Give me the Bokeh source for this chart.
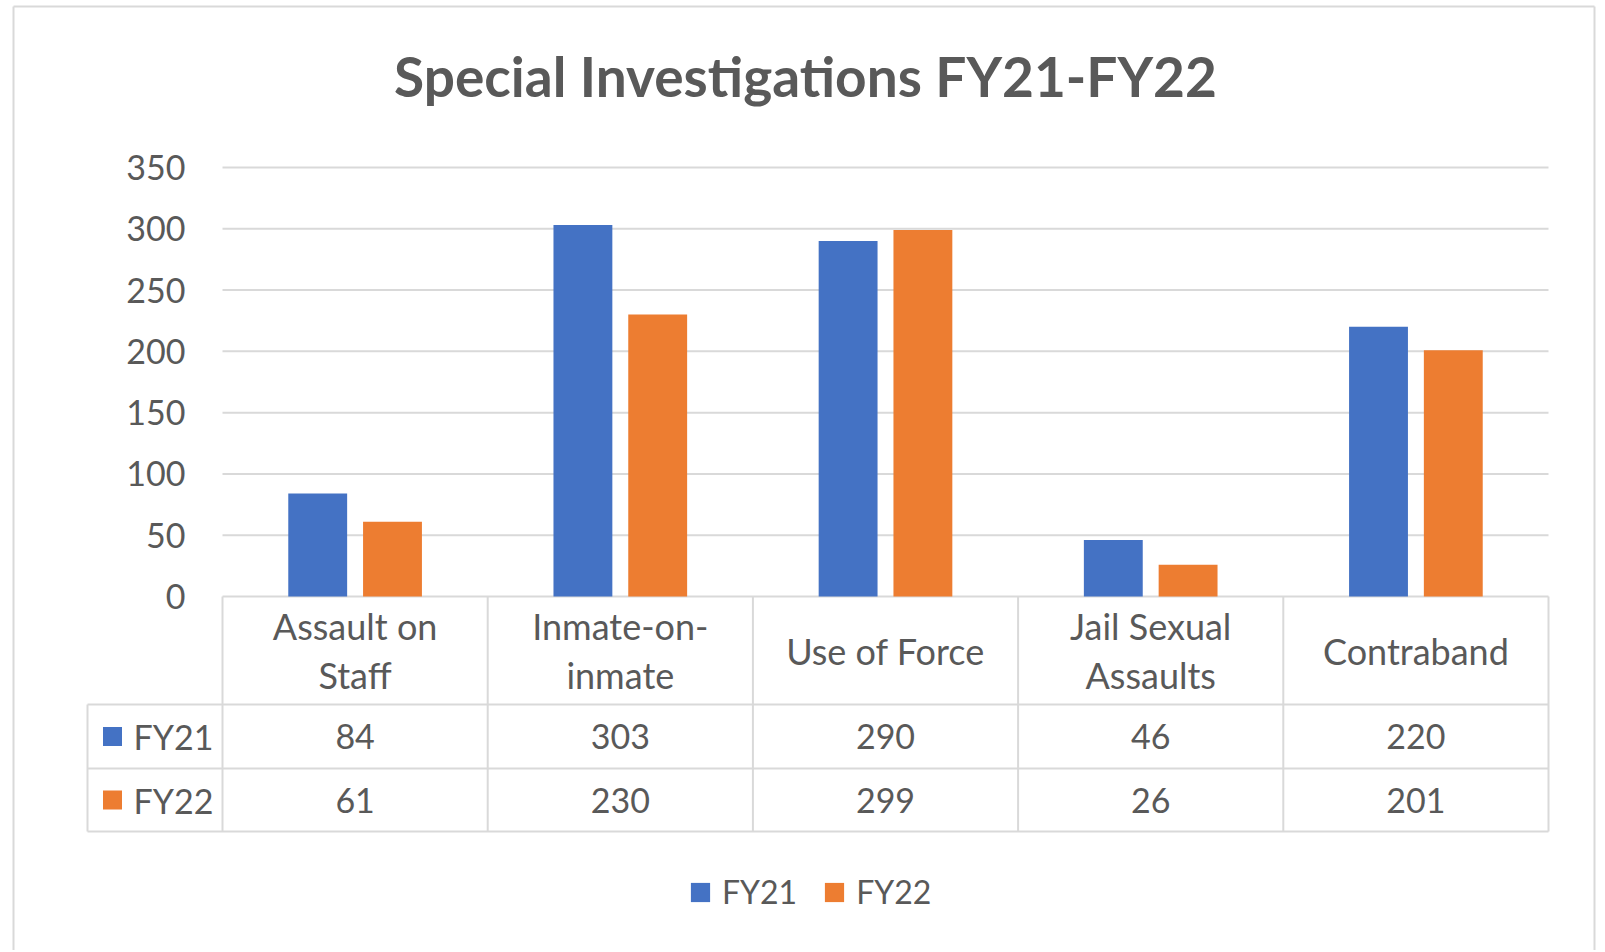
from bokeh.plotting import figure
from bokeh.models import Range1d, ColumnDataSource, Legend, LegendItem
from bokeh.core.properties import value
from bokeh.embed import file_html
from bokeh.resources import INLINE

# ---------------- data ----------------
title_text = "Special Investigations FY21-FY22"
categories = ["Assault on Staff", "Inmate-on-inmate", "Use of Force",
              "Jail Sexual Assaults", "Contraband"]
category_labels = ["Assault on\nStaff", "Inmate-on-\ninmate", "Use of Force",
                   "Jail Sexual\nAssaults", "Contraband"]
series = ["FY21", "FY22"]
fy21 = [84, 303, 290, 46, 220]
fy22 = [61, 230, 299, 26, 201]
y_ticks = [0, 50, 100, 150, 200, 250, 300, 350]
y_tick_labels = ["0", "50", "100", "150", "200", "250", "300", "350"]
colors = ["#4472C4", "#ED7D31"]

# ---------------- layout (page pixels) ----------------
FONT_NAME = "Lato"
FONT = value(FONT_NAME)
TXT = "#595959"
LINE = "#d9d9d9"
ORG = 0
W, H = 1600, 950
FX0, FX1 = ORG, ORG + W
FY0, FY1 = ORG, ORG + H
plot_left, plot_right = 222, 1548
zero_y, top_y = 596, 167
n = len(categories)
ux = (plot_right - plot_left) / n
cx0 = plot_left + ux / 2
uy = (zero_y - top_y) / y_ticks[-1]


def X(px):
    return (px - cx0) / ux


def Y(py):
    return (zero_y - py) / uy


p = figure(width=W, height=H, output_backend="svg", toolbar_location=None,
           x_range=Range1d(X(FX0), X(FX1)), y_range=Range1d(Y(FY1), Y(FY0)),
           min_border_left=0, min_border_right=0, min_border_top=0,
           min_border_bottom=0)
p.axis.visible = False
p.grid.visible = False
p.outline_line_color = None
p.background_fill_color = "white"
p.border_fill_color = "white"

# chart border (left, top, right)
bl, bt, br = 13, 6, 1594
p.segment(x0=[X(bl), X(bl), X(br)], y0=[Y(FY1), Y(bt), Y(bt)],
          x1=[X(bl), X(br), X(br)], y1=[Y(bt), Y(bt), Y(FY1)],
          line_color="#d9d9d9", line_width=2)

# title
p.text(x=[X(805)], y=[Y(75)], text=[title_text], text_font=FONT,
       text_font_size="55px", text_font_style="bold", text_color=TXT,
       text_align="center", text_baseline="middle")

# gridlines + tick labels
xs_left = -0.5
xs_right = n - 0.5
p.segment(x0=[xs_left] * len(y_ticks), x1=[xs_right] * len(y_ticks),
          y0=y_ticks, y1=y_ticks, line_color=LINE, line_width=2)
p.text(x=[xs_left] * len(y_ticks), y=y_ticks, text=y_tick_labels,
       x_offset=-37, text_font=FONT, text_font_size="34px", text_color=TXT,
       text_align="right", text_baseline="middle")

# bars
idx = list(range(n))
off, bw = 0.141, 0.222
src = ColumnDataSource(dict(x1=[i - off for i in idx], x2=[i + off for i in idx],
                            fy21=fy21, fy22=fy22))
r1 = p.vbar(x="x1", top="fy21", bottom=0, width=bw, source=src,
            fill_color=colors[0], line_color=None)
r2 = p.vbar(x="x2", top="fy22", bottom=0, width=bw, source=src,
            fill_color=colors[1], line_color=None)

# data table
y_head = Y(704)
y_r1 = Y(768)
y_r2 = Y(831)
x_tab = X(87)
p.segment(x0=[x_tab, x_tab, x_tab], x1=[xs_right] * 3,
          y0=[y_head, y_r1, y_r2], y1=[y_head, y_r1, y_r2],
          line_color=LINE, line_width=2)
vx = [i - 0.5 for i in range(n + 1)]
p.segment(x0=vx, x1=vx, y0=[0] * len(vx), y1=[y_r2] * len(vx),
          line_color=LINE, line_width=2)
p.segment(x0=[x_tab], x1=[x_tab], y0=[y_head], y1=[y_r2],
          line_color=LINE, line_width=2)

# header labels
p.text(x=idx, y=[(0 + y_head) / 2] * n, text=category_labels, text_font=FONT,
       text_font_size="36px", text_color=TXT, text_align="center",
       text_baseline="middle", text_line_height=1.1)
# row values
row_y = [(y_head + y_r1) / 2, (y_r1 + y_r2) / 2]
for vals, ry in zip([fy21, fy22], row_y):
    p.text(x=idx, y=[ry] * n, text=[str(v) for v in vals], text_font=FONT,
           text_font_size="34px", text_color=TXT, text_align="center",
           text_baseline="middle")
# row labels with keys
p.scatter(x=[X(112)] * 2, y=row_y, marker="square", size=19,
          fill_color=colors, line_color=None)
p.text(x=[X(133)] * 2, y=row_y, text=series, text_font=FONT,
       text_font_size="34px", text_color=TXT, text_align="left",
       text_baseline="middle")

# legend
gw = 24
legend = Legend(items=[LegendItem(label=series[0], renderers=[r1]),
                       LegendItem(label=series[1], renderers=[r2])],
                orientation="horizontal",
                location=(688 - FX0, FY1 - 891 - gw / 2 - 8),
                glyph_width=gw, glyph_height=gw, label_standoff=10, spacing=25,
                padding=0, margin=0, border_line_color=None,
                background_fill_alpha=0, label_text_font=FONT_NAME,
                label_text_font_size="32px", label_text_color=TXT)
p.add_layout(legend)

open("out.html", "w").write(file_html(p, INLINE))
